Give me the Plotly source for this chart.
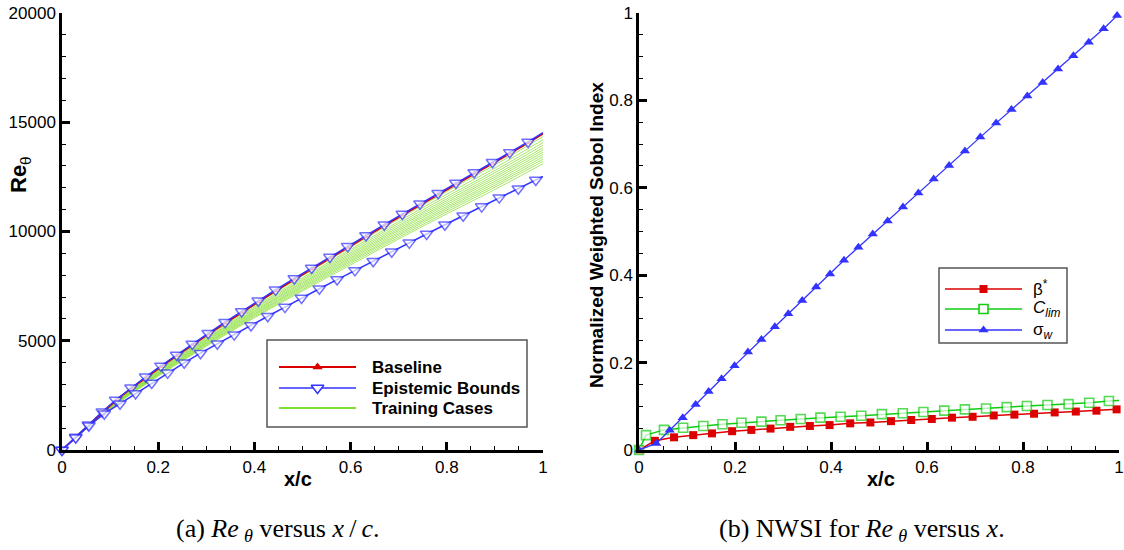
import plotly.graph_objects as go

# ---------------- Left panel: Re_theta versus x/c ----------------
upper_x = [0, 0.0285, 0.0547, 0.0838, 0.1116, 0.1435, 0.174, 0.2058, 0.2384, 0.271, 0.304, 0.339,
           0.3735, 0.408, 0.444, 0.483, 0.519, 0.557, 0.594, 0.632, 0.670, 0.7075, 0.7443, 0.782,
           0.819, 0.857, 0.895, 0.931, 0.969, 1.0]
upper_y = [0, 590, 1160, 1750, 2290, 2850, 3350, 3850, 4350, 4850, 5340, 5850, 6340, 6830, 7330,
           7850, 8330, 8830, 9320, 9820, 10310, 10800, 11270, 11750, 12220, 12700, 13170, 13620,
           14100, 14520]
baseline_y = [0, 570, 1130, 1720, 2260, 2810, 3310, 3810, 4310, 4810, 5300, 5800, 6290, 6780, 7280,
              7800, 8280, 8780, 9270, 9770, 10260, 10750, 11220, 11700, 12170, 12650, 13120, 13570,
              14050, 14480]
lower_x = [0, 0.0285, 0.056, 0.088, 0.1206, 0.153, 0.1865, 0.2197, 0.254, 0.288, 0.323, 0.358, 0.393,
           0.4277, 0.4636, 0.498, 0.535, 0.572, 0.609, 0.647, 0.6855, 0.722, 0.758, 0.796, 0.834,
           0.8725, 0.909, 0.9487, 0.985, 1.0]
lower_y = [0, 560, 1110, 1660, 2120, 2590, 3070, 3530, 3990, 4430, 4860, 5280, 5700, 6120, 6540, 6960,
           7380, 7800, 8220, 8640, 9070, 9480, 9890, 10310, 10720, 11140, 11550, 11960, 12360, 12520]

train_x = [0, 0.1, 0.2, 0.3, 0.4, 0.5, 0.6, 0.7, 0.8, 0.9, 1.0]
training_cases = [
    [0, 2070, 3740, 5250, 6690, 8050, 9370, 10680, 11950, 13180, 14490],
    [0, 2050, 3700, 5200, 6620, 7970, 9270, 10570, 11830, 13050, 14340],
    [0, 2030, 3660, 5150, 6550, 7880, 9180, 10460, 11710, 12910, 14200],
    [0, 2010, 3630, 5100, 6490, 7810, 9100, 10370, 11600, 12790, 14070],
    [0, 2000, 3600, 5060, 6440, 7750, 9020, 10280, 11500, 12690, 13950],
    [0, 1980, 3570, 5020, 6380, 7680, 8950, 10200, 11410, 12580, 13830],
    [0, 1960, 3540, 4980, 6340, 7630, 8880, 10120, 11320, 12490, 13730],
    [0, 1950, 3510, 4940, 6290, 7570, 8810, 10050, 11240, 12400, 13630],
    [0, 1940, 3490, 4900, 6240, 7510, 8750, 9970, 11150, 12300, 13530],
    [0, 1920, 3460, 4870, 6200, 7460, 8680, 9890, 11070, 12210, 13420],
    [0, 1910, 3440, 4830, 6150, 7400, 8620, 9820, 10990, 12120, 13320],
    [0, 1890, 3410, 4790, 6100, 7340, 8550, 9740, 10900, 12030, 13220],
    [0, 1870, 3380, 4750, 6050, 7280, 8470, 9660, 10810, 11920, 13100],
]

# ---------------- Right panel: NWSI ----------------
beta_x = [0, 0.033, 0.073, 0.113, 0.152, 0.194, 0.234, 0.274, 0.315, 0.356, 0.397, 0.440, 0.482,
          0.525, 0.567, 0.610, 0.652, 0.695, 0.739, 0.782, 0.823, 0.866, 0.910, 0.953, 0.995]
beta_y = [0, 0.021, 0.029, 0.034, 0.038, 0.043, 0.046, 0.049, 0.053, 0.055, 0.057, 0.061, 0.063,
          0.066, 0.0686, 0.071, 0.074, 0.076, 0.079, 0.081, 0.083, 0.086, 0.088, 0.090, 0.093]
clim_x = [0, 0.0146, 0.052, 0.092, 0.134, 0.174, 0.2135, 0.255, 0.295, 0.337, 0.378, 0.42, 0.463,
          0.506, 0.5495, 0.5925, 0.636, 0.679, 0.723, 0.766, 0.808, 0.851, 0.895, 0.938, 0.979, 1.0]
clim_y = [0, 0.034, 0.046, 0.051, 0.055, 0.059, 0.0625, 0.065, 0.068, 0.071, 0.074, 0.076, 0.0785,
          0.082, 0.084, 0.087, 0.090, 0.093, 0.095, 0.098, 0.1007, 0.103, 0.105, 0.108, 0.112, 0.113]
sigma_x = [0, 0.036, 0.064, 0.091, 0.118, 0.145, 0.172, 0.199, 0.227, 0.255, 0.283, 0.311, 0.340,
           0.369, 0.398, 0.427, 0.457, 0.487, 0.518, 0.550, 0.582, 0.614, 0.646, 0.679, 0.711, 0.744,
           0.776, 0.809, 0.841, 0.873, 0.905, 0.937, 0.968, 0.996]
sigma_y = [0, 0.015, 0.045, 0.074, 0.104, 0.134, 0.163, 0.193, 0.224, 0.253, 0.282, 0.312, 0.342,
           0.373, 0.403, 0.434, 0.464, 0.494, 0.524, 0.556, 0.588, 0.620, 0.651, 0.684, 0.716, 0.748,
           0.779, 0.810, 0.841, 0.872, 0.902, 0.933, 0.964, 0.994]

x_ticks = [0, 0.2, 0.4, 0.6, 0.8, 1]
left_y_ticks = [0, 5000, 10000, 15000, 20000]
right_y_ticks = [0, 0.2, 0.4, 0.6, 0.8, 1]

left_legend_labels = ['Baseline', 'Epistemic Bounds', 'Training Cases']
right_legend_labels = ['β<sup>*</sup>', '<i>C</i><sub><i>lim</i></sub>', 'σ<sub><i>w</i></sub>']

RED = '#dd0000'
BLUE = '#3333ff'
GREEN = '#11cc11'
TRAIN = '#8fe040'
SANS = 'Liberation Sans'
SERIF = 'Liberation Serif'
W, H = 1124, 550


def px_x(p):
    return min(1.0, max(0.0, p / W))


def px_y(p):
    return min(1.0, max(0.0, (H - p) / H))


fig = go.Figure()

for ys in training_cases:
    fig.add_trace(go.Scatter(x=train_x, y=ys, mode='lines', name='Training Cases',
                             line=dict(color=TRAIN, width=0.8, shape='spline'),
                             xaxis='x', yaxis='y', showlegend=False, cliponaxis=False))

n_up = len(upper_x)
fig.add_trace(go.Scatter(x=upper_x, y=baseline_y, mode='lines+markers', name='Baseline',
                         line=dict(color=RED, width=1.8),
                         marker=dict(symbol='triangle-up', size=[7] * (n_up - 1) + [0], color=RED),
                         xaxis='x', yaxis='y', showlegend=False, cliponaxis=False))
fig.add_trace(go.Scatter(x=upper_x, y=upper_y, mode='lines+markers', name='Epistemic Bounds',
                         line=dict(color=BLUE, width=1.5),
                         marker=dict(symbol='triangle-down', size=[11] * (n_up - 1) + [0], color='white',
                                     line=dict(color=BLUE, width=1.5)),
                         xaxis='x', yaxis='y', showlegend=False, cliponaxis=False))
n_lo = len(lower_x)
fig.add_trace(go.Scatter(x=lower_x, y=lower_y, mode='lines+markers', name='Epistemic Bounds',
                         line=dict(color=BLUE, width=1.5),
                         marker=dict(symbol='triangle-down', size=[11] * (n_lo - 1) + [0], color='white',
                                     line=dict(color=BLUE, width=1.5)),
                         xaxis='x', yaxis='y', showlegend=False, cliponaxis=False))

fig.add_trace(go.Scatter(x=beta_x, y=beta_y, mode='lines+markers', name='β*',
                         line=dict(color=RED, width=1.5),
                         marker=dict(symbol='square', size=8, color=RED),
                         xaxis='x2', yaxis='y2', showlegend=False, cliponaxis=False))
n_cl = len(clim_x)
fig.add_trace(go.Scatter(x=clim_x, y=clim_y, mode='lines+markers', name='C_lim',
                         line=dict(color=GREEN, width=1.5),
                         marker=dict(symbol='square', size=[9] * (n_cl - 1) + [0], color='white',
                                     line=dict(color=GREEN, width=1.6)),
                         xaxis='x2', yaxis='y2', showlegend=False, cliponaxis=False))
fig.add_trace(go.Scatter(x=sigma_x, y=sigma_y, mode='lines+markers', name='σ_w',
                         line=dict(color=BLUE, width=1.3),
                         marker=dict(symbol='triangle-up', size=9, color=BLUE),
                         xaxis='x2', yaxis='y2', showlegend=False, cliponaxis=False))

# ---------------- legends (drawn on a pixel overlay axis) ----------------
legend_specs = [
    (279, 356, 367, RED, 1.8, dict(symbol='triangle-up', size=9, color=RED)),
    (279, 356, 388, BLUE, 1.5, dict(symbol='triangle-down', size=11, color='white', line=dict(color=BLUE, width=1.5))),
    (279, 356, 408, '#7fe030', 2.0, None),
    (945, 1022, 289, RED, 1.5, dict(symbol='square', size=8, color=RED)),
    (945, 1022, 309, GREEN, 1.5, dict(symbol='square', size=9, color='white', line=dict(color=GREEN, width=1.6))),
    (945, 1022, 330, BLUE, 1.3, dict(symbol='triangle-up', size=9, color=BLUE)),
]
for x0, x1, yy, col, lw, mk in legend_specs:
    fig.add_trace(go.Scatter(x=[x0, x1], y=[yy, yy], mode='lines', line=dict(color=col, width=lw),
                             xaxis='x3', yaxis='y3', showlegend=False, hoverinfo='skip', cliponaxis=False))
    if mk is not None:
        fig.add_trace(go.Scatter(x=[(x0 + x1) / 2], y=[yy], mode='markers', marker=mk,
                                 xaxis='x3', yaxis='y3', showlegend=False, hoverinfo='skip',
                                 cliponaxis=False))

axis_common = dict(showline=True, linecolor='black', linewidth=2.5, ticks='inside', ticklen=8,
                   tickwidth=2.5, tickcolor='black', showgrid=False, zeroline=False, automargin=False,
                   ticklabeloverflow='allow',
                   tickfont=dict(family=SANS, size=17, color='black'))
minor_common = dict(ticks='inside', ticklen=4, tickwidth=1, tickcolor='black', tick0=0)

fig.update_layout(
    width=W, height=H, margin=dict(l=0, r=0, t=0, b=0, pad=0, autoexpand=False),
    paper_bgcolor='white', plot_bgcolor='rgba(0,0,0,0)',
    showlegend=False,
    xaxis=dict(domain=[px_x(62), px_x(543)], range=[0, 1], tickvals=x_ticks, anchor='y',
               minor=dict(dtick=0.05, **minor_common), **axis_common),
    yaxis=dict(domain=[px_y(450), px_y(13)], range=[0, 20000], tickvals=left_y_ticks, tickformat='d',
               anchor='x', minor=dict(dtick=1000, **minor_common), **axis_common),
    xaxis2=dict(domain=[px_x(639), px_x(1119)], range=[0, 1], tickvals=x_ticks, anchor='y2',
                minor=dict(dtick=0.05, **minor_common), **axis_common),
    yaxis2=dict(domain=[px_y(450), px_y(13)], range=[0, 1], tickvals=right_y_ticks, anchor='x2',
                minor=dict(dtick=0.05, **minor_common), **axis_common),
    xaxis3=dict(domain=[0, 1], range=[0, W], visible=False, anchor='y3', fixedrange=True, automargin=False),
    yaxis3=dict(domain=[0, 1], range=[H, 0], visible=False, anchor='x3', fixedrange=True, automargin=False),
)

shapes = [
    dict(type='rect', xref='paper', yref='paper', x0=px_x(267), x1=px_x(527), y0=px_y(427), y1=px_y(340),
         line=dict(color='#555555', width=1.5), fillcolor='white', layer='below'),
    dict(type='rect', xref='paper', yref='paper', x0=px_x(939), x1=px_x(1067), y0=px_y(343), y1=px_y(268),
         line=dict(color='#555555', width=1.5), fillcolor='white', layer='below'),
]
fig.update_layout(shapes=shapes)

annotations = [
    dict(text='<b>Re</b><sub>θ</sub>', x=px_x(20), y=px_y(175), textangle=-90,
         font=dict(family=SANS, size=22, color='black')),
    dict(text='<b>x/c</b>', x=px_x(298), y=px_y(479), font=dict(family=SANS, size=20, color='black')),
    dict(text='<b>Normalized Weighted Sobol Index</b>', x=px_x(596), y=px_y(235), textangle=-90,
         font=dict(family=SANS, size=19, color='black')),
    dict(text='<b>x/c</b>', x=px_x(881), y=px_y(479), font=dict(family=SANS, size=20, color='black')),
    dict(text='(a) <i>Re</i>\u2009<sub><i>θ</i></sub> versus <i>x</i>\u2009/\u2009<i>c</i>.', x=px_x(278), y=px_y(530),
         font=dict(family=SERIF, size=26, color='black')),
    dict(text='(b) NWSI for <i>Re</i>\u2009<sub><i>θ</i></sub> versus <i>x</i>.', x=px_x(862), y=px_y(530),
         font=dict(family=SERIF, size=26, color='black')),
]
for a in annotations:
    a.update(xref='paper', yref='paper', showarrow=False, xanchor='center', yanchor='middle')

for lbl, yy in zip(left_legend_labels, [367, 388, 408]):
    annotations.append(dict(text='<b>' + lbl + '</b>', x=370, y=yy, xref='x3', yref='y3', showarrow=False,
                            xanchor='left', yanchor='middle', font=dict(family=SANS, size=17, color='black')))
for lbl, yy in zip(right_legend_labels, [288, 309, 331]):
    annotations.append(dict(text=lbl, x=1031, y=yy, xref='x3', yref='y3', showarrow=False,
                            xanchor='left', yanchor='middle', font=dict(family=SANS, size=17, color='black')))
fig.update_layout(annotations=annotations)

fig.write_html('out.html', post_script="document.body.style.margin='0';document.documentElement.style.overflow='hidden';")
